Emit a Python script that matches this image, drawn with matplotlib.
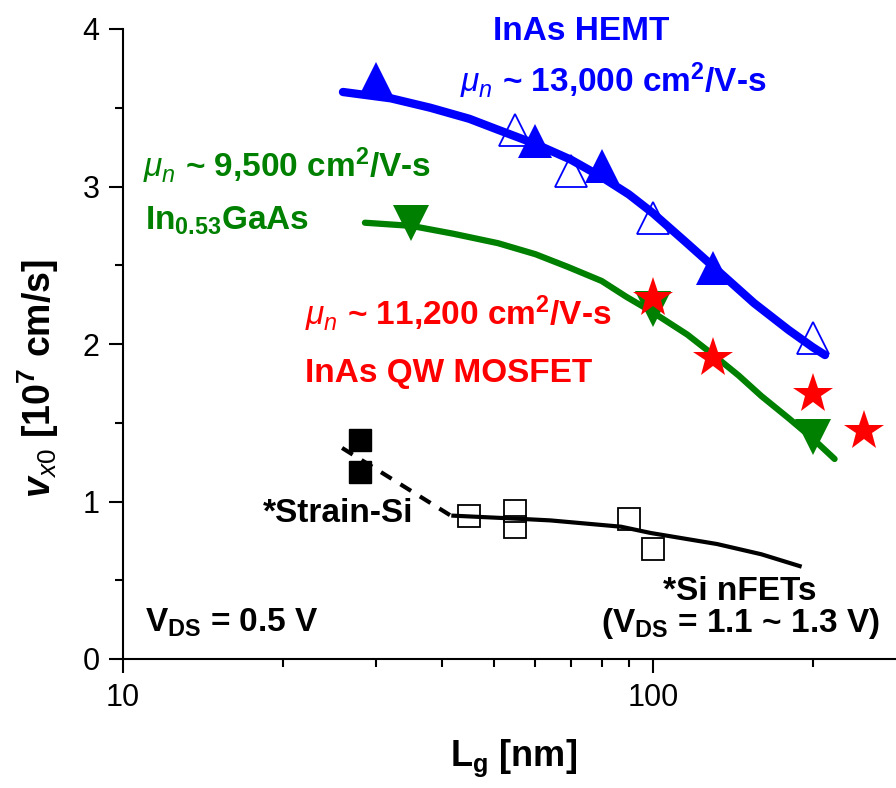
import matplotlib
matplotlib.use('Agg')
import matplotlib.pyplot as plt
from matplotlib.ticker import FixedLocator, FixedFormatter, NullFormatter, MultipleLocator

plt.rcParams['font.family'] = ['Liberation Sans', 'DejaVu Sans']
plt.rcParams['mathtext.fontset'] = 'custom'
plt.rcParams['mathtext.rm'] = 'Liberation Sans'
plt.rcParams['mathtext.it'] = 'Liberation Sans:italic'
plt.rcParams['mathtext.bf'] = 'Liberation Sans:bold'
plt.rcParams['mathtext.bfit'] = 'Liberation Sans:bold:italic'

# InAs HEMT
hemt_filled_lg = [30, 60, 80, 130]
hemt_filled_v = [3.68, 3.29, 3.13, 2.48]
hemt_open_lg = [55, 70, 100, 200]
hemt_open_v = [3.36, 3.10, 2.80, 2.04]
hemt_fit_lg = [26, 32, 38, 45, 51, 60, 70, 80, 90, 100, 115, 130, 155, 180, 200, 211]
hemt_fit_v = [3.60, 3.56, 3.50, 3.43, 3.36, 3.27, 3.17, 3.06, 2.95, 2.83, 2.65, 2.49, 2.26, 2.09, 1.98, 1.93]

# In0.53GaAs
ingaas_lg = [35, 100, 200]
ingaas_v = [2.77, 2.22, 1.41]
ingaas_fit_lg = [28.6, 35, 42, 51, 60, 69, 80, 89, 100, 116, 130, 145, 160, 180, 200, 220]
ingaas_fit_v = [2.77, 2.75, 2.70, 2.64, 2.57, 2.49, 2.40, 2.30, 2.20, 2.06, 1.93, 1.80, 1.67, 1.53, 1.40, 1.27]

# InAs QW MOSFET
mosfet_lg = [100, 130, 200, 250]
mosfet_v = [2.29, 1.91, 1.68, 1.45]

# Si
strain_lg = [28, 28]
strain_v = [1.39, 1.19]
si_lg = [45, 55, 55, 90, 100]
si_v = [0.91, 0.94, 0.84, 0.89, 0.70]
si_fit_lg = [42, 56, 64, 87, 99, 132, 160, 189]
si_fit_v = [0.91, 0.89, 0.88, 0.84, 0.80, 0.73, 0.665, 0.59]
strain_fit_lg = [25.9, 42]
strain_fit_v = [1.34, 0.90]

blue = '#0000FF'
green = '#008000'
red = '#FF0000'

W, H = 896, 788
fig = plt.figure(figsize=(W / 100, H / 100), dpi=100)
ax = fig.add_axes([123 / W, 1 - 659 / H, 783 / W, 630 / H])

ax.plot(si_fit_lg, si_fit_v, color='black', lw=3, zorder=2)
ax.plot(strain_fit_lg, strain_fit_v, color='black', lw=3, ls=(0, (3, 2.5)), zorder=2)
ax.plot(si_lg, si_v, ls='none', marker='s', ms=16, mfc='none', mec='black', mew=1.3, zorder=3)
ax.plot(strain_lg, strain_v, ls='none', marker='s', ms=16, mfc='black', mec='black', zorder=3)

ax.plot(ingaas_fit_lg, ingaas_fit_v, color=green, lw=4.5, solid_capstyle='round', zorder=2)
ax.plot(ingaas_lg, ingaas_v, ls='none', marker='v', ms=26, color=green, mew=0, zorder=3)
ax.plot(mosfet_lg, mosfet_v, ls='none', marker='*', ms=30, color=red, mew=0, zorder=4)

ax.plot(hemt_open_lg, hemt_open_v, ls='none', marker='^', ms=23, mfc='none', mec=blue, mew=1.3, zorder=2)
ax.plot(hemt_fit_lg, hemt_fit_v, color=blue, lw=6, solid_capstyle='round', zorder=3)
ax.plot(hemt_filled_lg, hemt_filled_v, ls='none', marker='^', ms=25, color=blue, mew=0, zorder=4)

ax.set_xscale('log')
ax.set_xlim(10, 300)
ax.set_ylim(0, 4)
ax.xaxis.set_major_locator(FixedLocator([10, 100]))
ax.xaxis.set_major_formatter(FixedFormatter(['10', '100']))
ax.xaxis.set_minor_locator(FixedLocator([20, 30, 40, 50, 60, 70, 80, 90, 200, 300]))
ax.xaxis.set_minor_formatter(NullFormatter())
ax.yaxis.set_major_locator(MultipleLocator(1))
ax.yaxis.set_minor_locator(MultipleLocator(0.5))

for s in ['top', 'right']:
    ax.spines[s].set_visible(False)
for s in ['left', 'bottom']:
    ax.spines[s].set_linewidth(1.5)
ax.tick_params(which='major', direction='out', length=10, width=1.5, labelsize=22, pad=7)
ax.tick_params(which='minor', direction='out', length=6, width=1.5)

ax.set_xlabel(r'L$_{\mathbf{g}}$ [nm]', fontsize=26, fontweight='bold')
ax.xaxis.set_label_coords((514 - 123) / 783, (659 - 738) / 630)
ax.set_ylabel(r'$\mathbfit{v}_{\mathit{x0}}$ [10$^{\mathbf{7}}$ cm/s]', fontsize=27, fontweight='bold')
ax.yaxis.set_label_coords((61 - 123) / 783, (659 - 379) / 630)


def label(px, py, s, color='black', ha='left'):
    fig.text(px / W, 1 - py / H, s, color=color, ha=ha, va='baseline',
             fontsize=24, fontweight='bold')


label(581, 40, 'InAs HEMT', blue, ha='center')
label(460, 92, r'$\mu_{n}$ ~ 13,000 cm$^{\mathbf{2}}$/V-s', blue)
label(143, 177, r'$\mu_{n}$ ~ 9,500 cm$^{\mathbf{2}}$/V-s', green)
label(145, 230, r'In$_{\mathbf{0.53}}$GaAs', green)
label(305, 325, r'$\mu_{n}$ ~ 11,200 cm$^{\mathbf{2}}$/V-s', red)
label(305, 382, 'InAs QW MOSFET', red)
label(263, 522, '*Strain-Si')
label(145, 632, r'V$_{\mathbf{DS}}$ = 0.5 V')
label(740, 600, '*Si nFETs', ha='center')
label(740, 632, r'(V$_{\mathbf{DS}}$ = 1.1 ~ 1.3 V)', ha='center')

fig.savefig('out.png', dpi=100)
